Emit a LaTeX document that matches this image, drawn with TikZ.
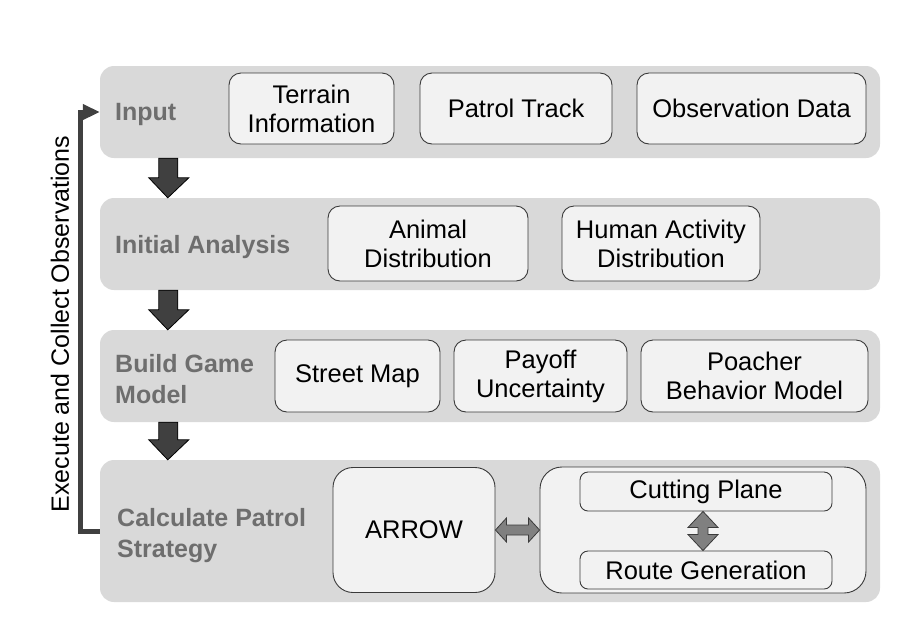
\documentclass[tikz,border=0pt]{standalone}
\usepackage{fontspec}
\setmainfont{Liberation Sans}
\usepackage{tikz}
\usetikzlibrary{calc,arrows.meta}

\definecolor{bandgray}{HTML}{D9D9D9}
\definecolor{boxgray}{HTML}{F2F2F2}
\definecolor{edgegray}{HTML}{3A3A3A}
\definecolor{labelgray}{HTML}{6E6E6E}
\definecolor{arrowgray}{HTML}{404040}
\definecolor{linkgray}{HTML}{808080}

\begin{document}
\begin{tikzpicture}[x=1pt,y=-1pt]
\tikzset{
	stage band/.style = {fill = bandgray, rounded corners = 14pt, minimum width = 780pt, minimum height = 92pt, inner sep = 0},
	stage label/.style = {anchor = west, align = left, text = labelgray, inner sep = 0, font = \bfseries\fontsize{25}{31}\selectfont},
	item box/.style = {draw = edgegray, fill = boxgray, line width = 0.9pt, rounded corners = 12pt, align = center, inner sep = 0, font = \fontsize{25.5}{29}\selectfont},
	block arrow/.style = {draw = black, fill = arrowgray, line width = 0.8pt},
	link arrow/.style = {draw = edgegray, fill = linkgray, line width = 0.8pt},
	feedback/.style = {draw = arrowgray, line width = 5pt, -{Triangle[length = 17pt, width = 15pt]}},
}
\useasboundingbox (0,0) rectangle (920,622);

\node(input)[stage band] at (490,112) {};
\node(analysis)[stage band] at (490,244) {};
\node(model)[stage band] at (490,376) {};
\node(strategy)[stage band, minimum height = 142pt] at (490,531) {};

\node(input label)[stage label] at (115,114) {Input};
\node(analysis label)[stage label] at (115,247) {Initial Analysis};
\node(model label)[stage label] at (115,379) {Build Game\\Model};
\node(strategy label)[stage label] at (117,536) {Calculate Patrol\\Strategy};

\node(terrain)[item box, minimum width = 165pt, minimum height = 71pt] at (311.5,108.5) {Terrain\\Information};
\node(track)[item box, minimum width = 192pt, minimum height = 71pt] at (516,108.5) {Patrol Track};
\node(obs)[item box, minimum width = 229pt, minimum height = 71pt] at (751.5,108.5) {Observation Data};

\node(animal)[item box, minimum width = 200pt, minimum height = 75pt] at (428,243.5) {Animal\\Distribution};
\node(human)[item box, minimum width = 198pt, minimum height = 75pt] at (661,243.5) {Human Activity\\Distribution};

\node(street)[item box, minimum width = 165pt, minimum height = 72pt] at (357.5,376) {Street Map};
\node(payoff)[item box, minimum width = 173pt, minimum height = 72pt] at (540.5,376) {Payoff\\Uncertainty};
\node(poacher)[item box, minimum width = 227pt, minimum height = 72pt] at (754.5,376) {Poacher\\Behavior Model};

\node(arrowbox)[item box, rounded corners = 20pt, minimum width = 162pt, minimum height = 125pt] at (414,530) {ARROW};
\node(solver)[item box, rounded corners = 22pt, minimum width = 326pt, minimum height = 126pt] at (703,530) {};
\node(cutting)[item box, rounded corners = 8pt, minimum width = 252pt, minimum height = 39pt] at (706,491.5) {Cutting Plane};
\node(route)[item box, rounded corners = 8pt, minimum width = 252pt, minimum height = 38pt] at (706,570) {Route Generation};

\foreach \a/\b in {input/analysis, analysis/model, model/strategy}
	\draw [block arrow] ($(\a.south west)+(59,0)$) -- ($(\b.north west)+(59,-20)$) -- ++(-10,0) -- ($(\b.north west)+(68,0)$) -- ++(21,-20) -- ++(-11,0) -- ($(\a.south west)+(78,0)$) -- cycle;

\draw [link arrow] (arrowbox.east) -- ++(11,-12) -- ++(0,7) -- ($(solver.west)+(-11,-5)$) -- ++(0,-7) -- (solver.west) -- ++(-11,12) -- ++(0,-7) -- ($(arrowbox.east)+(11,5)$) -- ++(0,7) -- cycle;
\draw [link arrow] ($(cutting.south)+(-3,0)$) -- ++(15,16) -- ++(-10,0) -- ($(route.north)+(2,-16)$) -- ++(10,0) -- ($(route.north)+(-3,0)$) -- ++(-15,-16) -- ++(10,0) -- ($(cutting.south)+(-8,16)$) -- ++(-10,0) -- cycle;

\draw [feedback] (strategy.west) -- ++(-19,0) |- (input.west);
\node(loop label)[rotate = 90, inner sep = 0, font = \fontsize{25}{29}\selectfont] at (60,324) {Execute and Collect Observations};

\end{tikzpicture}
\end{document}
